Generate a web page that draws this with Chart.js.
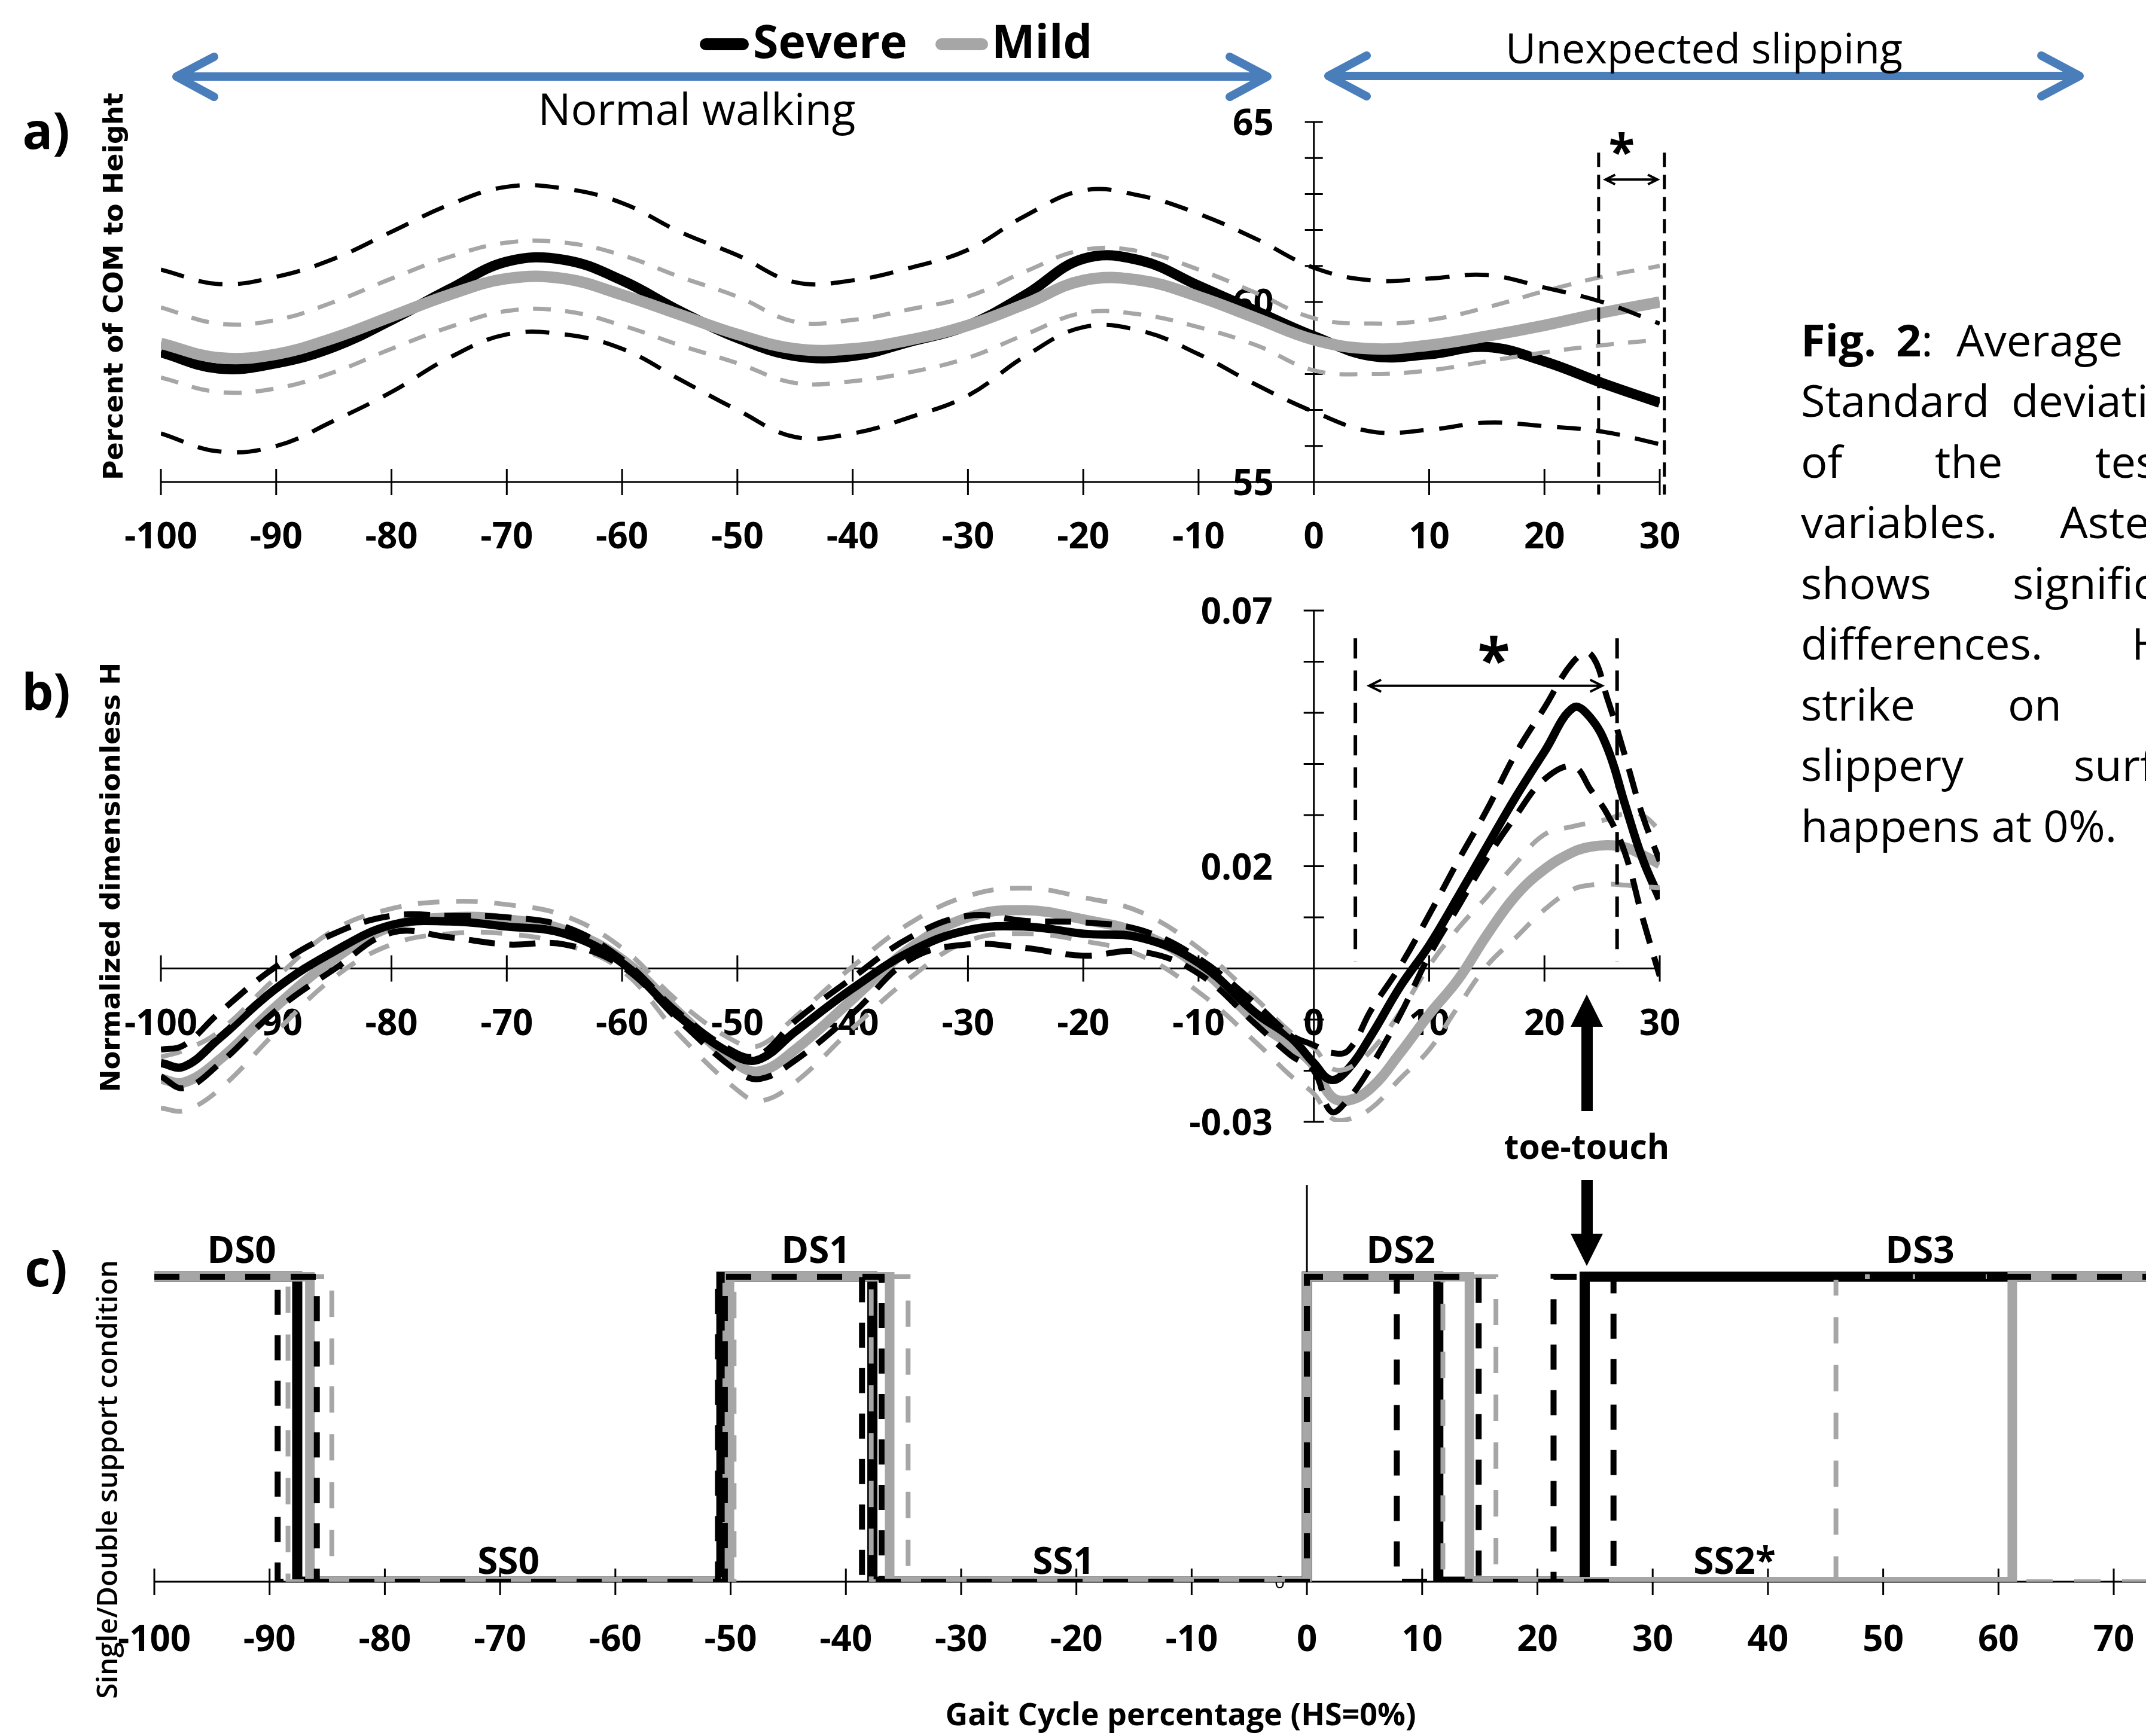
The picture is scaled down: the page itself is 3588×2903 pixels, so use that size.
<!DOCTYPE html>
<html>
<head>
<meta charset="utf-8">
<script src="https://cdn.jsdelivr.net/npm/chart.js@4.4.1/dist/chart.umd.min.js"></script>
<style>
html, body { margin: 0; padding: 0; background: #fff; }
body { width: 3588px; height: 2903px; overflow: hidden; position: relative; font-family: "Open Sans", sans-serif; color: #000; }
canvas { position: absolute; left: 0; }
.t { position: absolute; white-space: nowrap; line-height: 1; }
.c { transform: translate(-50%, -50%); }
.h { transform: translateX(-50%); }
.b { font-weight: 700; }
.rot { transform: translate(-50%, -50%) rotate(-90deg); }
.cap { font-size: 74px; }
</style>
</head>
<body>
<canvas id="chartA" width="3588" height="960" style="top:0"></canvas>
<canvas id="chartB" width="3588" height="980" style="top:960px"></canvas>
<canvas id="chartC" width="3588" height="963" style="top:1940px"></canvas>

<svg width="3588" height="2903" style="position:absolute;left:0;top:0" xmlns="http://www.w3.org/2000/svg">
  <g stroke="#4a7ebb" stroke-width="14" fill="none" stroke-linecap="round" stroke-linejoin="round">
    <line x1="300" y1="128" x2="2112" y2="128"/>
    <polyline points="358,95 295,128 358,162"/>
    <polyline points="2056,95 2119,128 2056,162"/>
    <line x1="2226" y1="127" x2="3472" y2="127"/>
    <polyline points="2285,93 2221,127 2285,161"/>
    <polyline points="3413,93 3477,127 3413,161"/>
  </g>
  <g stroke-linecap="round" stroke-width="20">
    <line x1="1180" y1="74" x2="1242" y2="74" stroke="#000"/>
    <line x1="1574" y1="74" x2="1642" y2="74" stroke="#a6a6a6"/>
  </g>
  <g fill="#000">
    <polygon points="2653,1663 2626,1717 2680,1717"/>
    <rect x="2644" y="1715" width="19" height="143"/>
    <rect x="2644" y="1973" width="19" height="92"/>
    <polygon points="2626,2063 2680,2063 2653,2117"/>
  </g>
</svg>

<!-- header -->
<div class="t b" style="left:1259px;top:29px;font-size:77px">Severe</div>
<div class="t b" style="left:1658px;top:29px;font-size:77px">Mild</div>
<div class="t h" style="left:1165px;top:144px;font-size:73px">Normal walking</div>
<div class="t h" style="left:2849px;top:44px;font-size:70px">Unexpected slipping</div>

<!-- panel letters and axis titles -->
<div class="t b c" style="left:77px;top:217px;font-size:84px">a)</div>
<div class="t b c" style="left:77px;top:1155px;font-size:84px">b)</div>
<div class="t b c" style="left:77px;top:2119px;font-size:84px">c)</div>
<div class="t rot" style="left:189px;top:479px;font-size:45px;font-family:'DejaVu Sans';font-weight:700">Percent of COM to Height</div>
<div class="t rot" style="left:184px;top:1467px;font-size:45px;font-family:'DejaVu Sans';font-weight:700">Normalized dimensionless H</div>
<div class="t rot" style="left:178px;top:2474px;font-size:47px;font-weight:600">Single/Double support condition</div>
<div class="t b h" style="left:1974px;top:2839px;font-size:52px">Gait Cycle percentage (HS=0%)</div>

<!-- panel c phase labels -->
<div class="t b c" style="left:404px;top:2088px;font-size:62px">DS0</div>
<div class="t b c" style="left:1364px;top:2088px;font-size:62px">DS1</div>
<div class="t b c" style="left:2342px;top:2088px;font-size:62px">DS2</div>
<div class="t b c" style="left:3210px;top:2088px;font-size:62px">DS3</div>
<div class="t b c" style="left:850px;top:2608px;font-size:62px">SS0</div>
<div class="t b c" style="left:1778px;top:2608px;font-size:62px">SS1</div>
<div class="t b c" style="left:2900px;top:2608px;font-size:62px">SS2*</div>
<div class="t b h" style="left:2653px;top:1888px;font-size:57px">toe-touch</div>

<!-- caption (cut by the right edge) -->
<div class="t cap" style="left:3011px;top:531px"><b>Fig.</b></div>
<div class="t cap" style="left:3170px;top:531px"><b>2</b>:</div>
<div class="t cap" style="left:3271px;top:531px">Average</div>
<div class="t cap" style="left:3011px;top:632px">Standard</div>
<div class="t cap" style="left:3363px;top:632px">deviation</div>
<div class="t cap" style="left:3011px;top:734px">of</div>
<div class="t cap" style="left:3235px;top:734px">the</div>
<div class="t cap" style="left:3503px;top:734px">tested</div>
<div class="t cap" style="left:3011px;top:835px">variables.</div>
<div class="t cap" style="left:3444px;top:835px">Asterisk</div>
<div class="t cap" style="left:3011px;top:937px">shows</div>
<div class="t cap" style="left:3365px;top:937px">significant</div>
<div class="t cap" style="left:3011px;top:1038px">differences.</div>
<div class="t cap" style="left:3564px;top:1038px">Heel</div>
<div class="t cap" style="left:3011px;top:1140px">strike</div>
<div class="t cap" style="left:3357px;top:1140px">on</div>
<div class="t cap" style="left:3011px;top:1241px">slippery</div>
<div class="t cap" style="left:3467px;top:1241px">surface</div>
<div class="t cap" style="left:3011px;top:1343px">happens at 0%.</div>

<script>
// ---------- a) COM height, percent of body height ----------
const xA = [-100,-95,-90,-85,-80,-75,-70,-65,-60,-55,-50,-45,-40,-35,-30,-25,-20,-15,-10,-5,0,5,10,15,20,25,30];
const comSevere   = [58.6,58.15,58.3,58.75,59.5,60.35,61.12,61.17,60.6,59.75,59.0,58.5,58.5,58.9,59.35,60.2,61.2,61.15,60.45,59.75,59.05,58.5,58.55,58.75,58.35,57.75,57.2];
const comSevereHi = [60.9,60.5,60.7,61.2,61.95,62.7,63.2,63.15,62.75,61.95,61.3,60.55,60.6,60.95,61.45,62.4,63.1,62.95,62.45,61.75,60.95,60.6,60.65,60.75,60.4,60.0,59.4];
const comSevereLo = [56.35,55.85,56.0,56.7,57.5,58.45,59.1,59.1,58.7,57.85,57.0,56.25,56.35,56.8,57.4,58.5,59.3,59.2,58.55,57.7,56.95,56.4,56.45,56.65,56.55,56.4,56.05];
const comMild     = [58.85,58.45,58.55,59.0,59.6,60.2,60.65,60.65,60.2,59.65,59.1,58.7,58.7,58.95,59.35,59.95,60.6,60.6,60.15,59.55,58.95,58.7,58.8,59.05,59.35,59.7,60.0];
const comMildHi   = [59.85,59.4,59.5,60.0,60.65,61.25,61.65,61.65,61.3,60.7,60.15,59.45,59.5,59.8,60.15,60.85,61.45,61.4,60.9,60.25,59.55,59.4,59.5,59.85,60.3,60.7,61.0];
const comMildLo   = [57.9,57.5,57.6,58.05,58.7,59.3,59.75,59.75,59.35,58.8,58.3,57.75,57.8,58.05,58.45,59.1,59.7,59.65,59.3,58.8,58.1,58.0,58.1,58.35,58.6,58.8,58.95];

// ---------- b) normalized dimensionless H ----------
const xB = [-100,-98,-95,-90,-85,-80,-75,-70,-65,-60,-55,-50,-48,-45,-40,-35,-30,-25,-20,-15,-10,-5,-2,0,1.5,3,5,7.5,10,12.5,15,17.5,20,22.5,24,25.5,27,28.5,30];
const hSevere   = [-0.0185,-0.0192,-0.0138,-0.0039,0.0033,0.0085,0.0092,0.0082,0.0068,0.0011,-0.0095,-0.0173,-0.0177,-0.0124,-0.0039,0.0033,0.0075,0.0082,0.0068,0.0060,0.0011,-0.0088,-0.0135,-0.0185,-0.0218,-0.0196,-0.0130,-0.0035,0.0045,0.0140,0.0238,0.0335,0.0424,0.0510,0.0490,0.0429,0.0320,0.0215,0.0136];
const hSevereHi = [-0.0159,-0.0150,-0.0088,0.0004,0.0068,0.0103,0.0103,0.0100,0.0082,0.0018,-0.0088,-0.0166,-0.0168,-0.0103,-0.0018,0.0061,0.0103,0.0093,0.0090,0.0075,0.0020,-0.0070,-0.0130,-0.0150,-0.0165,-0.0160,-0.0080,0.0005,0.0105,0.0210,0.0310,0.0420,0.0510,0.0600,0.0615,0.0525,0.0415,0.0300,0.0210];
const hSevereLo = [-0.0211,-0.0234,-0.0188,-0.0082,-0.0002,0.0070,0.0061,0.0047,0.0047,0.0004,-0.0103,-0.0201,-0.0216,-0.0180,-0.0088,0.0018,0.0047,0.0040,0.0025,0.0033,-0.0010,-0.0110,-0.0170,-0.0200,-0.0280,-0.0255,-0.0190,-0.0090,0.0025,0.0120,0.0215,0.0298,0.0370,0.0395,0.0350,0.0300,0.0225,0.0100,-0.0015];
const hMild     = [-0.0216,-0.0223,-0.0180,-0.0074,0.0018,0.0082,0.0100,0.0096,0.0075,0.0018,-0.0088,-0.0187,-0.0201,-0.0159,-0.0060,0.0040,0.0100,0.0114,0.0096,0.0068,0.0004,-0.0103,-0.0150,-0.0190,-0.0250,-0.0258,-0.0233,-0.0165,-0.0090,-0.0022,0.0065,0.0142,0.0194,0.0228,0.0238,0.0241,0.0237,0.0222,0.0204];
const hMildHi   = [-0.0173,-0.0160,-0.0124,-0.0018,0.0075,0.0117,0.0131,0.0125,0.0103,0.0040,-0.0067,-0.0145,-0.0150,-0.0095,0.0004,0.0089,0.0142,0.0157,0.0139,0.0110,0.0040,-0.0060,-0.0125,-0.0155,-0.0195,-0.0195,-0.0160,-0.0085,0.0005,0.0078,0.0140,0.0205,0.0262,0.0278,0.0285,0.0292,0.0303,0.0300,0.0270];
const hMildLo   = [-0.0273,-0.0278,-0.0238,-0.0124,-0.0018,0.0047,0.0068,0.0068,0.0047,-0.0004,-0.0131,-0.0238,-0.0259,-0.0223,-0.0117,-0.0018,0.0054,0.0068,0.0054,0.0025,-0.0046,-0.0145,-0.0210,-0.0245,-0.0292,-0.0295,-0.0273,-0.0215,-0.0159,-0.0075,0.0005,0.0060,0.0115,0.0155,0.0163,0.0165,0.0163,0.0160,0.0158];

// ---------- c) support phase switches (% gait cycle), starting in double support ----------
const swSevere      = [-87.6, -50.8, -37.7, 0, 11.4, 24.1];
const swSevereEarly = [-89.3, -51.1, -38.6, 0, 7.8, 21.4];
const swSevereLate  = [-85.9, -50.5, -36.9, 0, 14.9, 26.6];
const swMild        = [-86.5, -50.1, -36.2, 0, 14.1, 61.2];
const swMildEarly   = [-88.4, -50.5, -37.8, 0, 11.8, 45.9];
const swMildLate    = [-84.6, -49.7, -34.6, 0, 16.4, 76.5];

// ticks
const xTicksAB = [-100,-90,-80,-70,-60,-50,-40,-30,-20,-10,0,10,20,30];
const xTicksC  = [-100,-90,-80,-70,-60,-50,-40,-30,-20,-10,0,10,20,30,40,50,60,70];
const yTicksA  = [55,56,57,58,59,60,61,62,63,64,65];
const yLabelsA = ['55','60','65'];
const yTicksB  = [-0.03,-0.02,-0.01,0,0.01,0.02,0.03,0.04,0.05,0.06,0.07];
const yLabelsB = ['-0.03','0.02','0.07'];
const yLabelsC = ['0'];

const BLACK = '#000000';
const GREY = '#a6a6a6';
const tickFont = 'bold 60px "Open Sans"';

function pts(xs, ys) { return xs.map((x, i) => ({x: x, y: ys[i]})); }

function steps(sw, end) {
  let lvl = 1;
  const out = [{x: -100, y: 1}];
  sw.forEach(t => { lvl = 1 - lvl; out.push({x: t, y: lvl}); });
  out.push({x: end, y: lvl});
  return out;
}

function line(data, color, width, dash, order, extra) {
  return Object.assign({
    data: data, borderColor: color, borderWidth: width, borderDash: dash || [],
    pointRadius: 0, fill: false, order: order, tension: 0.4, borderCapStyle: 'butt'
  }, extra || {});
}

// axes with crossing ticks, drawn under the data
const axesPlugin = {
  id: 'axes',
  beforeDatasetsDraw(chart, args, o) {
    const ctx = chart.ctx, xs = chart.scales.x, ys = chart.scales.y;
    const y0 = ys.getPixelForValue(o.xAxisAt);
    const x0 = xs.getPixelForValue(0);
    ctx.save();
    ctx.strokeStyle = BLACK;
    ctx.lineWidth = 3;
    ctx.beginPath();
    ctx.moveTo(xs.left, y0); ctx.lineTo(xs.right, y0);
    o.xTicks.forEach(v => {
      const p = xs.getPixelForValue(v);
      ctx.moveTo(p, y0 - o.xTickLen); ctx.lineTo(p, y0 + o.xTickLen);
    });
    ctx.moveTo(x0, ys.top); ctx.lineTo(x0, ys.bottom + o.yExtra);
    o.yTicks.forEach(v => {
      const p = ys.getPixelForValue(v);
      ctx.moveTo(x0 - o.yTickLen, p); ctx.lineTo(x0 + o.yTickLen, p);
    });
    ctx.stroke();

    ctx.fillStyle = BLACK;
    ctx.font = o.font;
    ctx.textBaseline = 'alphabetic';
    let m = ctx.measureText('0');
    let off = (m.actualBoundingBoxAscent - m.actualBoundingBoxDescent) / 2;
    ctx.textAlign = 'center';
    o.xTicks.forEach(v => ctx.fillText(String(v), xs.getPixelForValue(v), y0 + o.xLabelGap + off));
    ctx.font = o.yFont || o.font;
    m = ctx.measureText('0');
    off = (m.actualBoundingBoxAscent - m.actualBoundingBoxDescent) / 2;
    ctx.textAlign = 'right';
    o.yLabels.forEach(s => ctx.fillText(s, x0 - o.yLabelGap, ys.getPixelForValue(parseFloat(s)) + off));
    ctx.restore();
  }
};

// significance marks: dashed bounds, double arrow, asterisk
const marksPlugin = {
  id: 'marks',
  afterDatasetsDraw(chart, args, o) {
    if (!o.vlines) return;
    const ctx = chart.ctx, xs = chart.scales.x, ys = chart.scales.y;
    ctx.save();
    ctx.strokeStyle = BLACK;
    ctx.lineWidth = o.vWidth;
    ctx.setLineDash(o.vDash);
    o.vlines.forEach(v => {
      const p = xs.getPixelForValue(v);
      ctx.beginPath();
      ctx.moveTo(p, ys.getPixelForValue(o.vTop));
      ctx.lineTo(p, ys.getPixelForValue(o.vBottom));
      ctx.stroke();
    });
    ctx.setLineDash([]);
    const ay = ys.getPixelForValue(o.arrowY);
    const a1 = xs.getPixelForValue(o.arrowFrom), a2 = xs.getPixelForValue(o.arrowTo);
    const h = o.head;
    ctx.lineWidth = o.arrowWidth;
    ctx.lineJoin = 'miter';
    ctx.beginPath();
    ctx.moveTo(a1, ay); ctx.lineTo(a2, ay);
    ctx.moveTo(a1 + h, ay - h * 0.5); ctx.lineTo(a1, ay); ctx.lineTo(a1 + h, ay + h * 0.5);
    ctx.moveTo(a2 - h, ay - h * 0.5); ctx.lineTo(a2, ay); ctx.lineTo(a2 - h, ay + h * 0.5);
    ctx.stroke();
    ctx.fillStyle = BLACK;
    ctx.font = o.starFont;
    ctx.textAlign = 'center';
    ctx.textBaseline = 'alphabetic';
    const m = ctx.measureText('*');
    ctx.fillText('*', xs.getPixelForValue(o.starX),
      ys.getPixelForValue(o.starY) + (m.actualBoundingBoxAscent - m.actualBoundingBoxDescent) / 2);
    ctx.restore();
  }
};

function baseOptions(padding, xr, yr, axes, marks) {
  return {
    responsive: false, animation: false, devicePixelRatio: 1, events: [],
    layout: {padding: padding},
    plugins: {legend: {display: false}, tooltip: {enabled: false}, axes: axes, marks: marks || {}},
    scales: {
      x: {type: 'linear', min: xr[0], max: xr[1], display: false},
      y: {type: 'linear', min: yr[0], max: yr[1], display: false}
    }
  };
}

new Chart('chartA', {
  type: 'line',
  data: {datasets: [
    line(pts(xA, comSevereHi), BLACK, 7, [40, 26], 1),
    line(pts(xA, comSevereLo), BLACK, 7, [40, 26], 1),
    line(pts(xA, comMildHi), GREY, 7, [30, 24], 2),
    line(pts(xA, comMildLo), GREY, 7, [30, 24], 2),
    line(pts(xA, comMild), GREY, 19, [], 3),
    line(pts(xA, comSevere), BLACK, 17, [], 4)
  ]},
  options: baseOptions({left: 269, right: 813, top: 204, bottom: 154}, [-100, 30], [55, 65],
    {xAxisAt: 55, xTicks: xTicksAB, xTickLen: 22, xLabelGap: 89,
     yTicks: yTicksA, yTickLen: 15, yLabels: yLabelsA, yLabelGap: 67, yExtra: 21, font: tickFont},
    {vlines: [24.7, 30.4], vTop: 64.15, vBottom: 54.65, vWidth: 5, vDash: [24, 13],
     arrowY: 63.4, arrowFrom: 25.3, arrowTo: 29.8, head: 16, arrowWidth: 4,
     starX: 26.7, starY: 64.4, starFont: 'bold 80px "Open Sans"'}),
  plugins: [axesPlugin, marksPlugin]
});

new Chart('chartB', {
  type: 'line',
  data: {datasets: [
    line(pts(xB, hSevereHi), BLACK, 10, [44, 24], 1),
    line(pts(xB, hSevereLo), BLACK, 10, [44, 24], 1),
    line(pts(xB, hMildHi), GREY, 8, [36, 28], 2),
    line(pts(xB, hMildLo), GREY, 8, [36, 28], 2),
    line(pts(xB, hSevere), BLACK, 14, [], 3),
    line(pts(xB, hMild), GREY, 17, [], 4)
  ]},
  options: baseOptions({left: 269, right: 813, top: 61, bottom: 64}, [-100, 30], [-0.03, 0.07],
    {xAxisAt: 0, xTicks: xTicksAB, xTickLen: 22, xLabelGap: 89,
     yTicks: yTicksB, yTickLen: 17, yLabels: yLabelsB, yLabelGap: 69, yExtra: 0, font: tickFont},
    {vlines: [3.6, 26.3], vTop: 0.0646, vBottom: 0.0014, vWidth: 6, vDash: [34, 20],
     arrowY: 0.0553, arrowFrom: 4.8, arrowTo: 25.0, head: 20, arrowWidth: 4,
     starX: 15.6, starY: 0.0623, starFont: 'bold 100px "Open Sans"'}),
  plugins: [axesPlugin, marksPlugin]
});

const stepOpts = {stepped: 'before', tension: 0, borderJoinStyle: 'miter'};
new Chart('chartC', {
  type: 'line',
  data: {datasets: [
    line(steps(swSevereEarly, 80), BLACK, 10, [42, 34], 1, stepOpts),
    line(steps(swSevereLate, 80), BLACK, 10, [42, 34], 1, stepOpts),
    line(steps(swMildEarly, 80), GREY, 8, [44, 36], 2, stepOpts),
    line(steps(swMildLate, 80), GREY, 8, [44, 36], 2, stepOpts),
    line(steps(swMild, 80), GREY, 16, [], 3, stepOpts),
    line(steps(swSevere, 80), BLACK, 17, [], 4, stepOpts)
  ]},
  options: baseOptions({left: 258, right: 0, top: 42, bottom: 258}, [-100, 72.8], [0, 1.3],
    {xAxisAt: 0, xTicks: xTicksC, xTickLen: 22, xLabelGap: 94,
     yTicks: [], yLabels: yLabelsC, yLabelGap: 37, yExtra: 0, font: tickFont, yFont: '30px "Open Sans"'}),
  plugins: [axesPlugin, marksPlugin]
});
</script>
</body>
</html>
